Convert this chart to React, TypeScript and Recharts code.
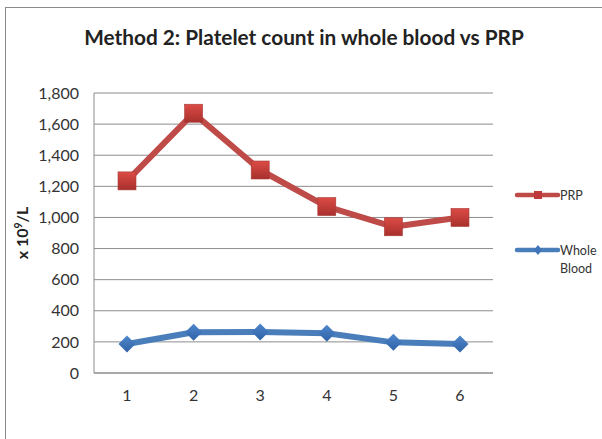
import { LineChart, Line, XAxis, YAxis, CartesianGrid, Legend } from "recharts";

const categories = ["1", "2", "3", "4", "5", "6"];
const prpValues = [1235, 1670, 1305, 1070, 940, 1000];
const wholeBloodValues = [186, 262, 264, 255, 197, 186];
const yTicks = [0, 200, 400, 600, 800, 1000, 1200, 1400, 1600, 1800];

const data = categories.map((c, i) => ({
  cat: c,
  prp: prpValues[i],
  whole: wholeBloodValues[i],
}));

const FONT = "Lato, 'Open Sans', sans-serif";
const RED = "#BE4B48";
const BLUE = "#4A7EBB";
const GRID = "#8c8c8c";

function SquareDot(props: any) {
  const { cx, cy, index } = props;
  if (cx == null || cy == null) return null;
  const s = 9;
  return (
    <rect
      key={`sq-${index}`}
      x={cx - s}
      y={cy - s}
      width={s * 2}
      height={s * 2}
      fill="url(#sqGrad)"
      stroke="#a83a37"
      strokeWidth={0.6}
    />
  );
}

function DiamondDot(props: any) {
  const { cx, cy, index } = props;
  if (cx == null || cy == null) return null;
  const r = 8.5;
  return (
    <path
      key={`dm-${index}`}
      d={`M${cx},${cy - r}L${cx + r},${cy}L${cx},${cy + r}L${cx - r},${cy}Z`}
      fill="url(#dmGrad)"
    />
  );
}

function LegendBox() {
  return (
    <svg width={90} height={100} style={{ display: "block", overflow: "visible" }}>
      <line x1={2} x2={43} y1={15} y2={15} stroke={RED} strokeWidth={4.5} strokeLinecap="round" />
      <rect x={19} y={11} width={8} height={8} fill="#c0393a" />
      <text x={45} y={19.5} fontFamily={FONT} fontSize={12.5} fill="#333">
        PRP
      </text>
      <line x1={2} x2={43} y1={70} y2={70} stroke={BLUE} strokeWidth={4.5} strokeLinecap="round" />
      <path d="M23,65L27,70L23,75L19,70Z" fill="#3f74b9" />
      <text x={45} y={74.5} fontFamily={FONT} fontSize={12.5} fill="#333">
        Whole
      </text>
      <text x={45} y={93} fontFamily={FONT} fontSize={12.5} fill="#333">
        Blood
      </text>
    </svg>
  );
}

function YLabel() {
  return (
    <text
      x={28}
      y={233}
      transform="rotate(-90, 28, 233)"
      textAnchor="middle"
      fontFamily={FONT}
      fontWeight={700}
      fontSize={16}
      fill="#222"
    >
      x 10
      <tspan dy={-6} fontSize={10.5}>
        9
      </tspan>
      <tspan dy={6}>/L</tspan>
    </text>
  );
}

export default function App() {
  return (
    <div
      style={{
        position: "absolute",
        left: 0,
        top: 0,
        width: 602,
        height: 439,
        overflow: "hidden",
        background: "#fff",
      }}
    >
      <div
        style={{
          position: "absolute",
          left: 5,
          top: 7,
          width: 700,
          height: 600,
          borderTop: "1px solid #8a8a8a",
          borderLeft: "1px solid #8a8a8a",
        }}
      />
      <div style={{ position: "absolute", left: 0, top: 0 }}>
        <LineChart
          width={602}
          height={439}
          data={data}
          margin={{ top: 93, right: 109, bottom: 0, left: 0 }}
        >
          <defs>
            <linearGradient id="sqGrad" x1="0" y1="0" x2="0" y2="1">
              <stop offset="0%" stopColor="#dc4b45" />
              <stop offset="100%" stopColor="#a8302d" />
            </linearGradient>
            <linearGradient id="dmGrad" x1="0" y1="0" x2="0" y2="1">
              <stop offset="0%" stopColor="#4f86cc" />
              <stop offset="100%" stopColor="#2f62a6" />
            </linearGradient>
          </defs>
          <text
            x={304}
            y={45}
            textAnchor="middle"
            fontFamily={FONT}
            fontWeight={700}
            fontSize={20.8}
            fill="#222"
          >
            Method 2: Platelet count in whole blood vs PRP
          </text>
          <CartesianGrid vertical={false} stroke={GRID} strokeWidth={1} />
          <XAxis
            dataKey="cat"
            height={66}
            padding={{ left: 33, right: 33 }}
            tickLine={false}
            tickSize={0}
            tickMargin={17}
            axisLine={{ stroke: GRID }}
            tick={{ fontFamily: FONT, fontSize: 16, fill: "#333" }}
          />
          <YAxis
            width={94}
            domain={[0, 1800]}
            ticks={yTicks}
            interval={0}
            tickLine={false}
            tickSize={0}
            tickMargin={15}
            axisLine={{ stroke: GRID }}
            tickFormatter={(v: number) => v.toLocaleString("en-US")}
            tick={{ fontFamily: FONT, fontSize: 16, fill: "#333" }}
            label={{ content: () => <YLabel /> }}
          />
          <Legend
            layout="vertical"
            align="center"
            verticalAlign="middle"
            wrapperStyle={{ left: 515, top: 180, width: 90, height: 100 }}
            content={() => <LegendBox />}
          />
          <Line
            type="linear"
            dataKey="whole"
            name="Whole Blood"
            stroke={BLUE}
            strokeWidth={6}
            strokeLinejoin="round"
            dot={DiamondDot}
            activeDot={false}
            isAnimationActive={false}
          />
          <Line
            type="linear"
            dataKey="prp"
            name="PRP"
            stroke={RED}
            strokeWidth={6}
            strokeLinejoin="round"
            dot={SquareDot}
            activeDot={false}
            isAnimationActive={false}
          />
        </LineChart>
      </div>
    </div>
  );
}
